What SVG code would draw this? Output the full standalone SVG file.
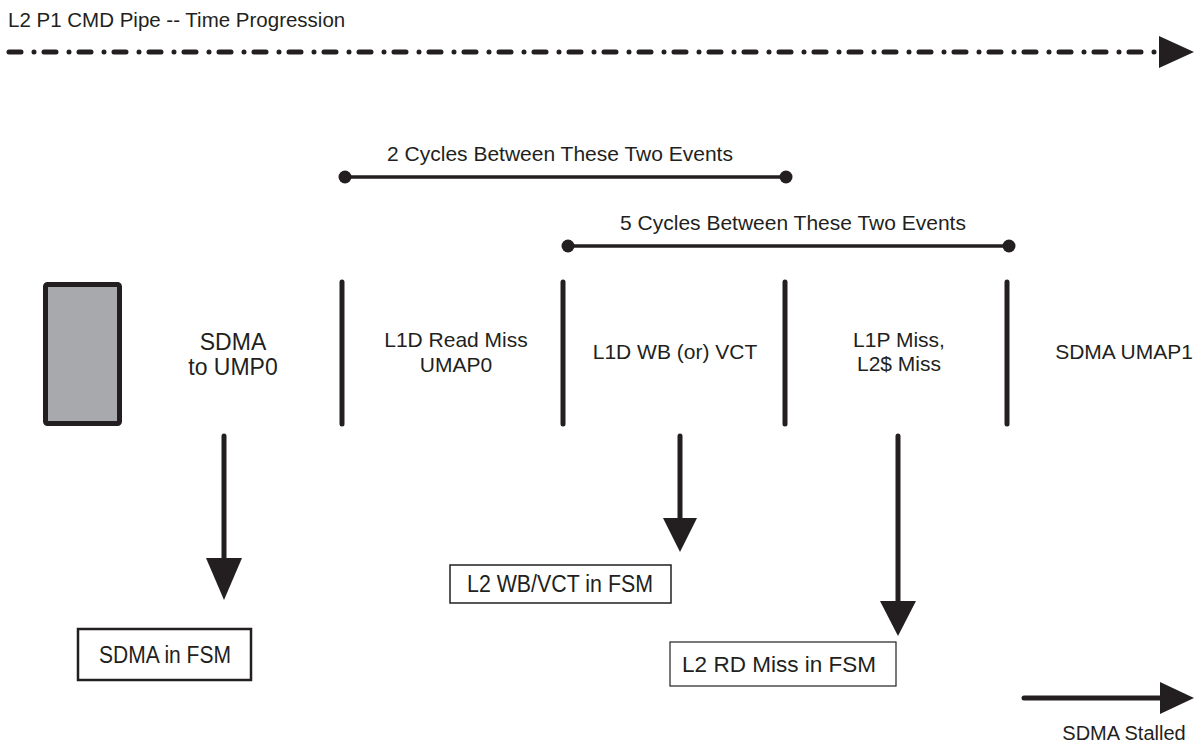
<svg xmlns="http://www.w3.org/2000/svg" width="1195" height="748" viewBox="0 0 1195 748">
<style>
text{font-family:"Liberation Sans",Arial,sans-serif;fill:#231f20}
.t{font-size:20.5px}
.lbl{font-size:21px;text-anchor:middle}
.cyc{font-size:21px;text-anchor:middle}
.fsm{font-size:23px;text-anchor:middle}
.sep{stroke:#231f20;stroke-width:5;stroke-linecap:round;fill:none}
.bar{stroke:#231f20;stroke-width:3.5;fill:none}
.dot{fill:#231f20}
.arr{stroke:#231f20;stroke-width:5;stroke-linecap:round;fill:none}
.head{fill:#231f20}
.box{fill:#fff;stroke:#231f20}
</style>
<rect width="1195" height="748" fill="#fff"/>
<g id="title">
<text class="t" x="8" y="27">L2 P1 CMD Pipe -- Time Progression</text>
</g>
<g id="connectors">
<line x1="9" y1="52" x2="1160" y2="52" stroke="#231f20" stroke-width="5" stroke-linecap="round" stroke-dasharray="12 13 0 10"/>
<polygon class="head" points="1159,36 1194,52 1159,68"/>
<line class="bar" x1="345" y1="177" x2="786" y2="177"/>
<circle class="dot" cx="345" cy="177" r="6.5"/>
<circle class="dot" cx="786" cy="177" r="6.5"/>
<line class="bar" x1="568" y1="246" x2="1009" y2="246"/>
<circle class="dot" cx="568" cy="246" r="6.5"/>
<circle class="dot" cx="1009" cy="246" r="6.5"/>
<line class="sep" x1="342" y1="282" x2="342" y2="424"/>
<line class="sep" x1="563" y1="282" x2="563" y2="424"/>
<line class="sep" x1="785" y1="282" x2="785" y2="424"/>
<line class="sep" x1="1007" y1="282" x2="1007" y2="424"/>
<line class="arr" x1="224" y1="436" x2="224" y2="562"/>
<polygon class="head" points="206,558 242,558 224,600"/>
<line class="arr" x1="680" y1="436" x2="680" y2="522"/>
<polygon class="head" points="663,518 697,518 680,552"/>
<line class="arr" x1="898" y1="436" x2="898" y2="605"/>
<polygon class="head" points="880,601 916,601 898,636"/>
<line class="arr" x1="1024" y1="698" x2="1164" y2="698"/>
<polygon class="head" points="1160,682 1194,698 1160,714"/>
</g>
<g id="cycles2">
<text class="cyc" x="560" y="161">2 Cycles Between These Two Events</text>
</g>
<g id="cycles5">
<text class="cyc" x="793" y="230">5 Cycles Between These Two Events</text>
</g>
<g id="sdma-block">
<rect x="45.5" y="284.5" width="74" height="139" rx="2" fill="#a7a9ac" stroke="#231f20" stroke-width="5"/>
</g>
<g id="sdma-to-ump0">
<text class="lbl" x="233" y="350" style="font-size:23px">SDMA</text>
<text class="lbl" x="233" y="375" style="font-size:23px">to UMP0</text>
</g>
<g id="l1d-read-miss">
<text class="lbl" x="456" y="347">L1D Read Miss</text>
<text class="lbl" x="456" y="372">UMAP0</text>
</g>
<g id="l1d-wb">
<text class="lbl" x="675" y="359">L1D WB (or) VCT</text>
</g>
<g id="l1p-miss">
<text class="lbl" x="899" y="347">L1P Miss,</text>
<text class="lbl" x="899" y="371">L2$ Miss</text>
</g>
<g id="sdma-umap1">
<text class="lbl" x="1124" y="359">SDMA UMAP1</text>
</g>
<g id="sdma-in-fsm">
<rect class="box" x="78" y="629" width="173" height="51" stroke-width="2.5"/>
<text class="fsm" x="165" y="663" textLength="132" lengthAdjust="spacingAndGlyphs">SDMA in FSM</text>
</g>
<g id="l2-wb-fsm">
<rect class="box" x="450" y="565" width="221" height="38" stroke-width="1.5"/>
<text class="fsm" x="560" y="592" textLength="186" lengthAdjust="spacingAndGlyphs">L2 WB/VCT in FSM</text>
</g>
<g id="l2-rd-fsm">
<rect class="box" x="670" y="642" width="226" height="44" stroke-width="1.2"/>
<text class="lbl" x="779" y="672" style="font-size:22.5px">L2 RD Miss in FSM</text>
</g>
<g id="sdma-stalled">
<text class="lbl" x="1124" y="740" style="font-size:20px">SDMA Stalled</text>
</g>
</svg>
